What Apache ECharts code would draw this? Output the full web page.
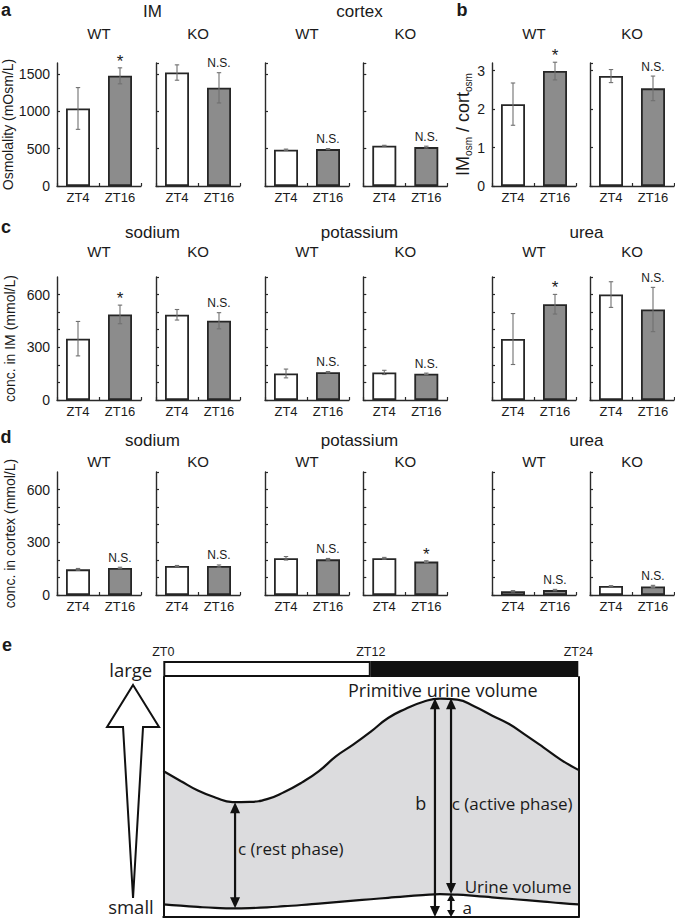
<!DOCTYPE html>
<html><head><meta charset="utf-8">
<script src="https://cdn.jsdelivr.net/npm/echarts@6/dist/echarts.min.js"></script>
<style>html,body{margin:0;padding:0;background:#fff}#c{width:675px;height:920px}</style>
</head><body><div id="c"></div>
<script>
const FONT = '"Liberation Sans", Arial, Helvetica, sans-serif';
const EFONT = '"Open Sans", "Noto Sans", sans-serif';

const categories = ['ZT4', 'ZT16'];
// a: osmolality (mOsm/L)
const osmIM_WT = [1040, 1478], osmIM_WT_err = [280, 107];
const osmIM_KO = [1522, 1317], osmIM_KO_err = [103, 203];
const osmCx_WT = [487, 495],   osmCx_WT_err = [8, 7];
const osmCx_KO = [540, 522],   osmCx_KO_err = [6, 12];
// b: IMosm / cortosm
const ratio_WT = [2.13, 2.99], ratio_WT_err = [0.55, 0.23];
const ratio_KO = [2.86, 2.54], ratio_KO_err = [0.17, 0.32];
// c: conc. in IM (mmol/L)
const naIM_WT = [349, 487],   naIM_WT_err = [98, 53];
const naIM_KO = [485, 451],   naIM_KO_err = [30, 46];
const kIM_WT = [151, 158],    kIM_WT_err = [25, 4];
const kIM_KO = [157, 149],    kIM_KO_err = [12, 4];
const ureaIM_WT = [347, 545], ureaIM_WT_err = [145, 56];
const ureaIM_KO = [600, 515], ureaIM_KO_err = [73, 126];
// d: conc. in cortex (mmol/L)
const naCx_WT = [146, 154],  naCx_WT_err = [5, 4];
const naCx_KO = [165, 165],  naCx_KO_err = [3, 6];
const kCx_WT = [209, 203],   kCx_WT_err = [10, 5];
const kCx_KO = [209, 190],   kCx_KO_err = [5, 5];
const ureaCx_WT = [21, 28],  ureaCx_WT_err = [4, 4];
const ureaCx_KO = [51, 49],  ureaCx_KO_err = [2, 6];
// significance labels (ZT16 vs ZT4)
const sigRowAB = ['*', 'N.S.', 'N.S.', 'N.S.', '*', 'N.S.'];
const sigRowC  = ['*', 'N.S.', 'N.S.', 'N.S.', '*', 'N.S.'];
const sigRowD  = ['N.S.', 'N.S.', 'N.S.', '*', 'N.S.', 'N.S.'];
// tick labels
const osmTicks = [0, 500, 1000, 1500];
const ratioTicks = [0, 1, 2, 3];
const concTicks = [0, 300, 600];
// e: schematic
const ztHours = [0,1,2,3,4,5,6,7,8,9,10,11,12,13,14,15,16,17,18,19,20,21,22,23,24];
const primitiveUrine = [60.8,56.7,52.7,49.8,47.9,48.0,49.1,52.1,56.0,60.8,67.0,71.9,77.2,82.9,86.7,89.6,91.0,90.6,87.7,84.0,80.4,75.6,70.6,65.5,61.3];
const urineVolume = [5.3,4.7,4.2,3.8,3.6,3.7,4.0,4.5,5.0,5.6,6.2,6.8,7.4,8.0,8.6,9.1,9.5,9.3,8.8,8.2,7.6,7.0,6.4,5.8,5.3];
const lightPhase = [12], darkPhase = [12];
const ztTickLabels = ['ZT0', 'ZT12', 'ZT24'];
const arrowsE = [[4.15, 3.6, 47.8], [15.71, 0, 91.1], [16.64, 9.6, 91.1], [16.64, 0, 9.6]];
const sizeArrow = [[-1.75, 7.9, 96.7]];
const eLabelText = ['Primitive urine volume', 'Urine volume', 'c (rest phase)', 'b', 'c (active phase)', 'a', 'large', 'small'];
const eLabelPos = [[10.68, 94.6], [17.43, 12.9], [4.32, 28.75], [14.89, 47.5], [16.68, 47.5], [17.3, 3.9], [-1.88, 103.0], [-1.87, 4.3]];
const eLabelStyle = [['left',18],['left',17],['left',17],['center',18],['left',17],['left',17],['center',18.5],['center',18.5]];

const scales = {
  osm: {min: 0, max: 1650, interval: 500, ticks: osmTicks},
  ratio: {min: 0, max: 3.2, interval: 1, ticks: ratioTicks},
  conc: {min: 0, max: 700, interval: 100, ticks: concTicks}
};
const ratioName = '{m|IM}{s|osm}{m| / cort}{s|osm}';
const rowDefs = [
  {top: 63, sets: [[osmIM_WT, osmIM_WT_err], [osmIM_KO, osmIM_KO_err], [osmCx_WT, osmCx_WT_err], [osmCx_KO, osmCx_KO_err], [ratio_WT, ratio_WT_err], [ratio_KO, ratio_KO_err]],
   sig: sigRowAB, scale: ['osm','osm','osm','osm','ratio','ratio'], labelCols: [0, 4], names: {0: 'Osmolality (mOsm/L)', 4: ratioName}},
  {top: 277, sets: [[naIM_WT, naIM_WT_err], [naIM_KO, naIM_KO_err], [kIM_WT, kIM_WT_err], [kIM_KO, kIM_KO_err], [ureaIM_WT, ureaIM_WT_err], [ureaIM_KO, ureaIM_KO_err]],
   sig: sigRowC, scale: ['conc','conc','conc','conc','conc','conc'], labelCols: [0], names: {0: 'conc. in IM (mmol/L)'}},
  {top: 472, sets: [[naCx_WT, naCx_WT_err], [naCx_KO, naCx_KO_err], [kCx_WT, kCx_WT_err], [kCx_KO, kCx_KO_err], [ureaCx_WT, ureaCx_WT_err], [ureaCx_KO, ureaCx_KO_err]],
   sig: sigRowD, scale: ['conc','conc','conc','conc','conc','conc'], labelCols: [0], names: {0: 'conc. in cortex (mmol/L)'}}
];

const lefts = [57, 156, 265, 363.3, 492, 590];
const PW = 84, PH = 123;
const AX = '#2a2a2a', TXT = '#1a1a1a';
const grid = [], xAxis = [], yAxis = [], series = [];

function makeErr(sigText) {
  return function (params, api) {
    const k = api.value(0), m = api.value(1), e = api.value(2);
    const t = api.coord([k, m + e]), b = api.coord([k, m - e]);
    const x = t[0], cw = 2.2;
    const st = {stroke: '#707070', lineWidth: 1.1};
    const ch = [
      {type: 'line', shape: {x1: x, y1: t[1], x2: x, y2: b[1]}, style: st},
      {type: 'line', shape: {x1: x - cw, y1: t[1], x2: x + cw, y2: t[1]}, style: st},
      {type: 'line', shape: {x1: x - cw, y1: b[1], x2: x + cw, y2: b[1]}, style: st}
    ];
    if (k === 1) {
      const star = sigText === '*';
      ch.push({type: 'text', style: {text: sigText, x: x, y: star ? t[1] + 2 : t[1] - 3.5, align: 'center', verticalAlign: 'bottom',
        fontSize: star ? 17 : 12, fontFamily: FONT, fill: TXT}});
    }
    return {type: 'group', children: ch};
  };
}

rowDefs.forEach(row => {
  row.sets.forEach((set, c) => {
    const gi = grid.length;
    grid.push({left: lefts[c], top: row.top, width: PW, height: PH, outerBoundsMode: 'none'});
    const sc = scales[row.scale[c]];
    const showLab = row.labelCols.indexOf(c) >= 0;
    xAxis.push({gridIndex: gi, type: 'category', data: categories,
      axisLine: {show: true, lineStyle: {color: AX, width: 1.4}},
      axisTick: {show: true, inside: true, length: 3, lineStyle: {color: AX, width: 1.2}},
      axisLabel: {fontSize: 13, color: TXT, margin: 5, fontFamily: FONT},
      splitLine: {show: false}});
    const nm = row.names[c];
    const ya = {gridIndex: gi, type: 'value', min: sc.min, max: sc.max, interval: sc.interval,
      axisLine: {show: true, lineStyle: {color: AX, width: 1.4}},
      axisTick: {show: true, inside: true, length: 3, lineStyle: {color: AX, width: 1.2}},
      splitLine: {show: false},
      axisLabel: {show: showLab, fontSize: 14, color: TXT, margin: 7, fontFamily: FONT, showMaxLabel: false,
        formatter: v => (sc.ticks.indexOf(v) >= 0 ? String(v) : '')}};
    if (nm) {
      ya.name = nm; ya.nameLocation = 'middle';
      if (nm === ratioName) {
        ya.nameGap = 16;
        ya.nameTextStyle = {rich: {
          m: {fontSize: 18, fontFamily: FONT, color: TXT, lineHeight: 20, verticalAlign: 'middle'},
          s: {fontSize: 10, fontFamily: FONT, color: TXT, verticalAlign: 'bottom'}}};
      } else {
        ya.nameGap = 40;
        ya.nameTextStyle = {fontSize: 14, fontFamily: FONT, color: TXT};
      }
    }
    yAxis.push(ya);
    series.push({type: 'bar', xAxisIndex: gi, yAxisIndex: gi, barWidth: 24, silent: true, z: 2,
      data: set[0].map((v, k) => ({value: v, itemStyle: {color: k ? '#8c8c8c' : '#ffffff'}})),
      itemStyle: {borderColor: '#262626', borderWidth: 1.8}});
    series.push({type: 'custom', xAxisIndex: gi, yAxisIndex: gi, z: 4, silent: true,
      data: set[0].map((v, k) => [k, v, set[1][k]]), encode: {x: 0, y: 1},
      renderItem: makeErr(row.sig[c])});
  });
});

// panel e
const EG = grid.length;
grid.push({left: 163.3, top: 677, width: 415, height: 240, outerBoundsMode: 'none'});
grid.push({left: 163.3, top: 661, width: 415, height: 16, outerBoundsMode: 'none'});
const EX = xAxis.length;
xAxis.push({gridIndex: EG, type: 'value', min: 0, max: 24, position: 'bottom', z: 6,
  axisLine: {show: true, onZero: false, lineStyle: {color: '#111', width: 2}}, axisTick: {show: false}, axisLabel: {show: false}, splitLine: {show: false}});
xAxis.push({gridIndex: EG + 1, type: 'value', min: 0, max: 24, interval: 12, position: 'top',
  axisLine: {show: false}, axisTick: {show: false}, splitLine: {show: false},
  axisLabel: {fontSize: 12.5, color: TXT, fontFamily: FONT, margin: 3, formatter: v => ztTickLabels[Math.round(v / 12)]}});
const EY = yAxis.length;
yAxis.push({gridIndex: EG, type: 'value', min: 0, max: 100, position: 'left', z: 6,
  axisLine: {show: true, onZero: false, lineStyle: {color: '#111', width: 2}}, axisTick: {show: false}, axisLabel: {show: false}, splitLine: {show: false}});
yAxis.push({gridIndex: EG + 1, type: 'category', data: ['LD'], show: false});
yAxis.push({gridIndex: EG, type: 'value', min: 0, max: 100, position: 'right', z: 6,
  axisLine: {show: true, onZero: false, lineStyle: {color: '#111', width: 2}}, axisTick: {show: false}, axisLabel: {show: false}, splitLine: {show: false}});

series.push({type: 'bar', xAxisIndex: EX + 1, yAxisIndex: EY + 1, stack: 'ld', barWidth: '100%', silent: true, data: lightPhase,
  itemStyle: {color: '#ffffff', borderColor: '#111', borderWidth: 2}});
series.push({type: 'bar', xAxisIndex: EX + 1, yAxisIndex: EY + 1, stack: 'ld', barWidth: '100%', silent: true, data: darkPhase,
  itemStyle: {color: '#111111', borderColor: '#111', borderWidth: 2}});
series.push({type: 'line', xAxisIndex: EX, yAxisIndex: EY, z: 2, smooth: true, symbol: 'none', silent: true,
  data: ztHours.map((h, i) => [h, primitiveUrine[i]]),
  lineStyle: {color: '#111', width: 2.2}, areaStyle: {color: '#dcdcde', opacity: 1}});
series.push({type: 'line', xAxisIndex: EX, yAxisIndex: EY, z: 3, smooth: true, symbol: 'none', silent: true,
  data: ztHours.map((h, i) => [h, urineVolume[i]]),
  lineStyle: {color: '#111', width: 2.2}, areaStyle: {color: '#ffffff', opacity: 1}});
series.push({type: 'custom', xAxisIndex: EX, yAxisIndex: EY, z: 7, silent: true, clip: false,
  data: arrowsE.map(a => [a[0], a[1], a[2]]),
  renderItem: (params, api) => {
    const p1 = api.coord([api.value(0), api.value(1)]), p2 = api.coord([api.value(0), api.value(2)]);
    const x = p1[0], yb = p1[1], yt = p2[1];
    const small = (yb - yt) < 40;
    const L = small ? 7 : 11, hw = small ? 4 : 5;
    return {type: 'group', children: [
      {type: 'line', shape: {x1: x, y1: yt + L - 1, x2: x, y2: yb - L + 1}, style: {stroke: '#111', lineWidth: 2.2}},
      {type: 'polygon', shape: {points: [[x, yt], [x - hw, yt + L], [x + hw, yt + L]]}, style: {fill: '#111'}},
      {type: 'polygon', shape: {points: [[x, yb], [x - hw, yb - L], [x + hw, yb - L]]}, style: {fill: '#111'}}
    ]};
  }});
series.push({type: 'custom', xAxisIndex: EX, yAxisIndex: EY, z: 7, silent: true, clip: false,
  data: sizeArrow,
  renderItem: (params, api) => {
    const t = api.coord([api.value(0), api.value(2)]), b = api.coord([api.value(0), api.value(1)]);
    const cx = t[0], ty = t[1], hb = ty + 42;
    return {type: 'polygon', shape: {points: [[cx, ty], [cx + 26, hb], [cx + 10, hb], [cx, b[1]], [cx - 10, hb], [cx - 26, hb]]},
      style: {fill: '#fff', stroke: '#111', lineWidth: 2, lineJoin: 'miter'}};
  }});
series.push({type: 'custom', xAxisIndex: EX, yAxisIndex: EY, z: 8, silent: true, clip: false,
  data: eLabelPos,
  renderItem: (params, api) => {
    const p = api.coord([api.value(0), api.value(1)]);
    const s = eLabelStyle[params.dataIndex];
    return {type: 'text', style: {text: eLabelText[params.dataIndex], x: p[0], y: p[1], align: s[0], verticalAlign: 'middle',
      fontSize: s[1], fontFamily: EFONT, fill: TXT}};
  }});

// titles
const graphic = [];
function T(text, x, y, size, bold) {
  graphic.push({type: 'text', x: x, y: y, silent: true,
    style: {text: text, align: 'center', verticalAlign: 'middle', fontSize: size, fontWeight: bold ? 'bold' : 'normal', fontFamily: FONT, fill: TXT}});
}
T('a', 6, 9.5, 18, true); T('b', 462, 9.5, 18, true); T('c', 6, 227, 18, true); T('d', 6, 437, 18, true); T('e', 7, 645, 18, true);
T('IM', 152.5, 11, 17); T('cortex', 359.5, 11, 17);
T('sodium', 152.5, 232.5, 17); T('potassium', 359.5, 232.5, 17); T('urea', 586.5, 232.5, 17);
T('sodium', 152.5, 440, 17); T('potassium', 359.5, 440, 17); T('urea', 586.5, 440, 17);
const subY = [33, 251.5, 461.5];
const subT = ['WT', 'KO', 'WT', 'KO', 'WT', 'KO'];
subY.forEach(y => subT.forEach((s, c) => T(s, lefts[c] + PW / 2, y, 15)));

const chart = echarts.init(document.getElementById('c'), null, {renderer: 'svg'});
chart.setOption({animation: false, backgroundColor: '#fff', grid, xAxis, yAxis, series, graphic});
</script></body></html>
